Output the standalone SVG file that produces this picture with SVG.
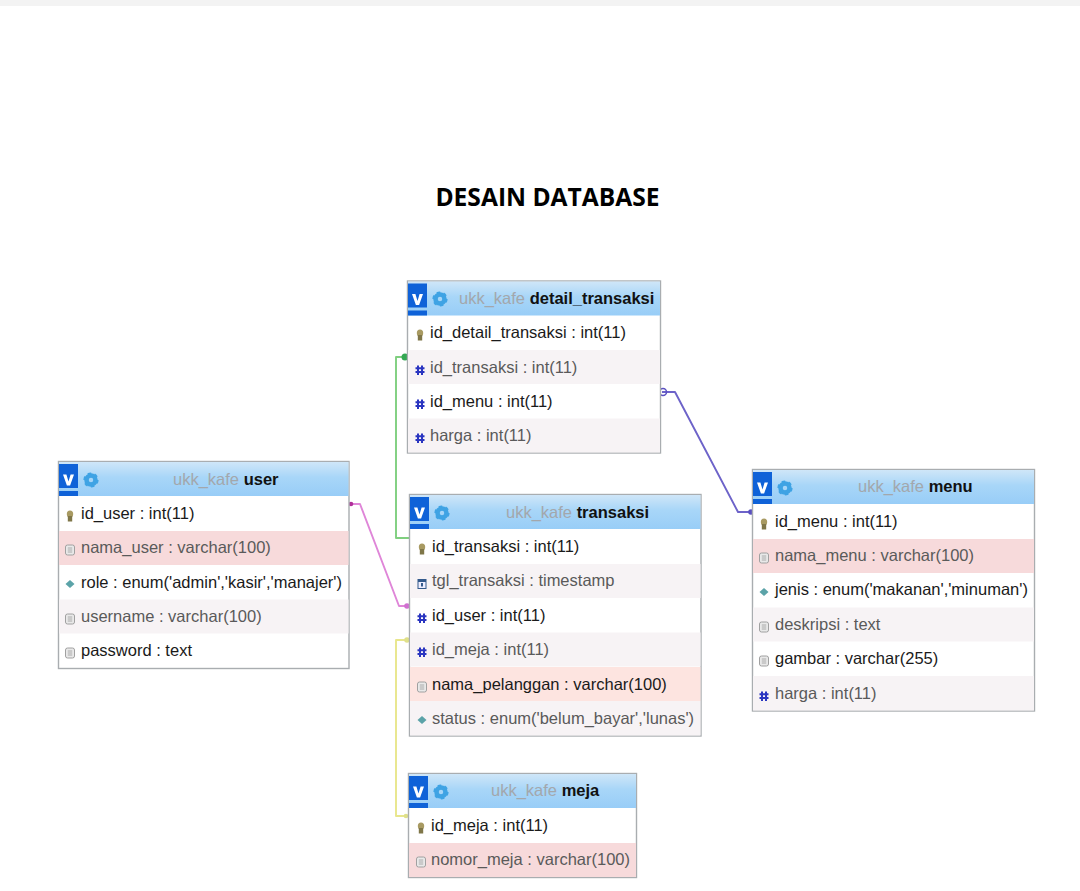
<svg xmlns="http://www.w3.org/2000/svg" xmlns:xlink="http://www.w3.org/1999/xlink" width="1080" height="891" viewBox="0 0 1080 891">
<style>
text{font-family:"Liberation Sans",Arial,sans-serif;font-size:16.5px}
.title{font-family:"Open Sans",sans-serif;font-weight:700;font-size:24.6px;fill:#000;text-anchor:middle}
.box{fill:#fff;stroke:#a9adb0;stroke-width:1.4}
.hd{fill:url(#hg)}
.alt{fill:#f7f3f5}
.pink{fill:#f7dadb}
.peach{fill:#fde4e0}
.b{fill:#1a1a1a}
.g{fill:#5a5a5a}
.db{fill:#a3a7ac}
.tn{fill:#111;font-weight:700}
.c{fill:none;stroke-width:1.9;stroke-linejoin:round}
</style>
<defs>
<linearGradient id="hg" x1="0" y1="0" x2="0" y2="1"><stop offset="0" stop-color="#cfe6f8"/><stop offset=".45" stop-color="#a8d6f8"/><stop offset="1" stop-color="#98cdf7"/></linearGradient>
<g id="v"><rect x="0" y="2" width="19" height="24" fill="#0f62d8"/><rect x="0" y="29" width="19" height="5" fill="#0f62d8"/><path d="M4 12.500h3.400l2.100 7 2.100-7h3.400l-3.900 11h-3.200z" fill="#fff"/></g>
<g id="gear"><circle r="4.500" fill="none" stroke="#3fa3e4" stroke-width="4.500"/><circle r="6.600" fill="none" stroke="#3fa3e4" stroke-width="2" stroke-dasharray="3.500 3.400"/></g>
<g id="key"><ellipse cx="0" cy="-2" rx="3.200" ry="3.600" fill="#a89a62"/><rect x="-2.200" y="0" width="4.400" height="5.500" fill="#7f7648"/></g>
<g id="hash"><path d="M-2-4.500v9.500M2-4.500v9.500M-4.500-1.700h9M-4.500 2h9" stroke="#2a35c0" stroke-width="2" fill="none"/></g>
<g id="doc"><rect x="-4.500" y="-5" width="9" height="10" rx="2" fill="#e9e9e9" stroke="#a0a0a0"/><path d="M-2.200-2h4.400M-2.200 0h4.400M-2.200 2h4.400" stroke="#999" stroke-width=".8"/></g>
<g id="dia"><path d="M0-4 4.500 0 0 4-4.500 0z" fill="#5ba3a8"/></g>
<g id="cal"><rect x="-4" y="-4.500" width="8" height="9" fill="#eef" stroke="#345a8c"/><rect x="-4" y="-4.500" width="8" height="2.500" fill="#345a8c"/><rect x="-1" y="-1" width="2" height="3.500" fill="#345a8c"/></g>
</defs>
<rect width="1080" height="891" fill="#fff"/>
<rect width="1080" height="6" fill="#f3f3f3"/>
<text class="title" x="547.500" y="206">DESAIN DATABASE</text>

<g id="connectors">
<path class="c" stroke="#7fcf7f" d="M409 538H396V357H407"/><circle cx="405" cy="357" r="3.500" fill="#34a853"/>
<path class="c" stroke="#df86d8" d="M351 504H360L399 606H409"/><circle cx="351" cy="504" r="2.300" fill="#b0309a"/><circle cx="407" cy="606" r="2.800" fill="#d070d0"/>
<path class="c" stroke="#e8e68c" d="M409 640H396V816H408"/><circle cx="407" cy="640" r="2.800" fill="#dfe08a"/><circle cx="406" cy="816" r="2.300" fill="#dfe08a"/>
<path class="c" stroke="#6d63c9" d="M662 392H675L738 512H752"/><circle cx="663" cy="392" r="3.500" fill="none" stroke="#5a50c0" stroke-width="1.500"/><circle cx="751" cy="512" r="2.800" fill="#5a50c0"/>
</g>

<g id="table-detail_transaksi">
<rect class="box" x="407.500" y="281" width="253" height="172"/>
<rect class="hd" x="408" y="281.500" width="252" height="34"/>
<rect class="alt" x="408" y="350" width="252" height="34"/>
<rect class="alt" x="408" y="418.500" width="252" height="34"/>
<use xlink:href="#v" href="#v" x="408" y="281.500"/><use href="#gear" x="440" y="299"/>
<text x="459" y="304" class="db">ukk_kafe <tspan class="tn">detail_transaksi</tspan></text>
<use href="#key" x="420" y="335"/><text class="b" x="430" y="338">id_detail_transaksi : int(11)</text>
<use href="#hash" x="420" y="370"/><text class="g" x="430" y="373">id_transaksi : int(11)</text>
<use href="#hash" x="420" y="404"/><text class="b" x="430" y="407">id_menu : int(11)</text>
<use href="#hash" x="420" y="438"/><text class="g" x="430" y="441">harga : int(11)</text>
</g>

<g id="table-user">
<rect class="box" x="58.500" y="461.500" width="290.500" height="207"/>
<rect class="hd" x="59" y="462" width="289.500" height="34"/>
<rect class="pink" x="59" y="531" width="289.500" height="34"/>
<rect class="alt" x="59" y="599.500" width="289.500" height="34"/>
<use href="#v" x="59" y="462"/><use href="#gear" x="91" y="480"/>
<text x="173" y="485" class="db">ukk_kafe <tspan class="tn">user</tspan></text>
<use href="#key" x="70" y="516"/><text class="b" x="81" y="519">id_user : int(11)</text>
<use href="#doc" x="70" y="550"/><text class="g" x="81" y="553">nama_user : varchar(100)</text>
<use href="#dia" x="70" y="584"/><text class="b" x="81" y="588">role : enum('admin','kasir','manajer')</text>
<use href="#doc" x="70" y="619"/><text class="g" x="81" y="622">username : varchar(100)</text>
<use href="#doc" x="70" y="653"/><text class="b" x="81" y="656">password : text</text>
</g>

<g id="table-transaksi">
<rect class="box" x="409.500" y="494.500" width="291.500" height="241.500"/>
<rect class="hd" x="410" y="495" width="290.500" height="34"/>
<rect class="alt" x="410" y="564" width="290.500" height="34"/>
<rect class="alt" x="410" y="632.500" width="290.500" height="34"/>
<rect class="peach" x="410" y="667" width="290.500" height="34"/>
<rect class="alt" x="410" y="701" width="290.500" height="34.500"/>
<use href="#v" x="410" y="495"/><use href="#gear" x="442" y="513"/>
<text x="506" y="518" class="db">ukk_kafe <tspan class="tn">transaksi</tspan></text>
<use href="#key" x="422" y="549"/><text class="b" x="432" y="552">id_transaksi : int(11)</text>
<use href="#cal" x="422" y="584"/><text class="g" x="432" y="586">tgl_transaksi : timestamp</text>
<use href="#hash" x="422" y="618"/><text class="b" x="432" y="621">id_user : int(11)</text>
<use href="#hash" x="422" y="652"/><text class="g" x="432" y="655">id_meja : int(11)</text>
<use href="#doc" x="422" y="687"/><text class="b" x="432" y="690">nama_pelanggan : varchar(100)</text>
<use href="#dia" x="422" y="720"/><text class="g" x="432" y="724">status : enum('belum_bayar','lunas')</text>
</g>

<g id="table-menu">
<rect class="box" x="752.500" y="469.500" width="282" height="241.500"/>
<rect class="hd" x="753" y="470" width="281" height="34"/>
<rect class="pink" x="753" y="539" width="281" height="34"/>
<rect class="alt" x="753" y="607.500" width="281" height="34"/>
<rect class="alt" x="753" y="676" width="281" height="34.500"/>
<use href="#v" x="753" y="470"/><use href="#gear" x="785" y="488"/>
<text x="858" y="492" class="db">ukk_kafe <tspan class="tn">menu</tspan></text>
<use href="#key" x="764" y="524"/><text class="b" x="775" y="527">id_menu : int(11)</text>
<use href="#doc" x="764" y="558"/><text class="g" x="775" y="561">nama_menu : varchar(100)</text>
<use href="#dia" x="764" y="592"/><text class="b" x="775" y="595">jenis : enum('makanan','minuman')</text>
<use href="#doc" x="764" y="627"/><text class="g" x="775" y="630">deskripsi : text</text>
<use href="#doc" x="764" y="661"/><text class="b" x="775" y="664">gambar : varchar(255)</text>
<use href="#hash" x="764" y="696"/><text class="g" x="775" y="699">harga : int(11)</text>
</g>

<g id="table-meja">
<rect class="box" x="408.500" y="773.500" width="228" height="104"/>
<rect class="hd" x="409" y="774" width="227" height="34"/>
<rect class="pink" x="409" y="843" width="227" height="34"/>
<use href="#v" x="409" y="774"/><use href="#gear" x="441" y="792"/>
<text x="491" y="796" class="db">ukk_kafe <tspan class="tn">meja</tspan></text>
<use href="#key" x="421" y="828"/><text class="b" x="431" y="831">id_meja : int(11)</text>
<use href="#doc" x="421" y="862"/><text class="g" x="431" y="865">nomor_meja : varchar(100)</text>
</g>
</svg>
